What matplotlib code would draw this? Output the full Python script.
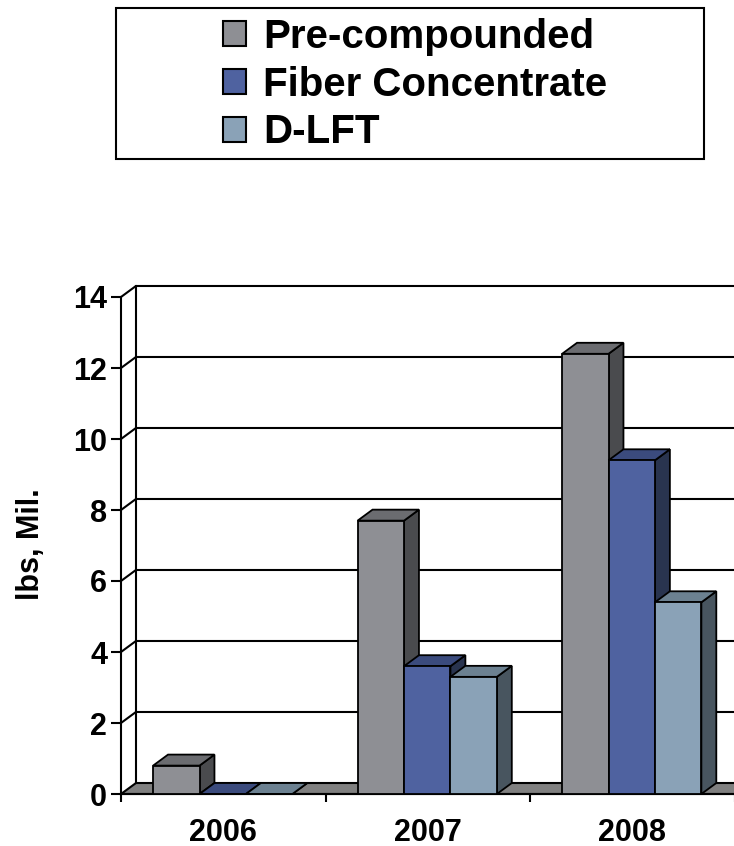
import matplotlib
matplotlib.use("Agg")
import matplotlib.pyplot as plt
from matplotlib.patches import Polygon, Rectangle, Patch

plt.rcParams['font.family'] = ['Liberation Sans', 'DejaVu Sans']
plt.rcParams['font.weight'] = 'bold'

years = ['2006', '2007', '2008']
series = ['Pre-compounded', 'Fiber Concentrate', 'D-LFT']
pre_compounded = [0.8, 7.7, 12.4]
fiber_concentrate = [0.0, 3.6, 9.4]
d_lft = [0.0, 3.3, 5.4]
yticks = [0, 2, 4, 6, 8, 10, 12, 14]

# front / top / side shades for each series
shades = [
    ('#8e8f94', '#6b6c70', '#4a4b4e'),
    ('#4f62a0', '#3b4b7d', '#29344f'),
    ('#8aa2b7', '#6c8191', '#48555f'),
]

values = [pre_compounded, fiber_concentrate, d_lft]

W = 0.227      # bar width (category units)
GAP = 0.157    # space before the first bar in each category
DX = 0.073     # depth offset in x
DY = 0.31      # depth offset in y
XR = 2.7       # right end of walls (runs off the figure)

fig = plt.figure(figsize=(7.34, 8.46), dpi=100)
ax = fig.add_axes([121 / 734, 52 / 846, 613.5 / 734, 497 / 846])
ax.set_xlim(-0.5, 2.5)
ax.set_ylim(0, 14)

for s in ['top', 'right']:
    ax.spines[s].set_visible(False)
ax.spines['left'].set_linewidth(1.5)
ax.spines['bottom'].set_linewidth(1.5)
ax.spines['bottom'].set_bounds(-0.5, XR)

ax.set_yticks(yticks)
ax.set_yticklabels([str(t) for t in yticks], fontsize=22, fontweight='bold')
ax.tick_params(axis='y', length=7, width=1.5, pad=3)
ax.set_xticks(range(len(years)))
ax.set_xticklabels(years, fontsize=22, fontweight='bold')
ax.set_xticks([-0.5, 0.5, 1.5, 2.5], minor=True)
ax.tick_params(axis='x', which='major', length=0, pad=17)
ax.tick_params(axis='x', which='minor', length=6, width=1.5)

# back wall, side-wall gridlines and floor
ax.plot([-0.5 + DX, -0.5 + DX], [DY, 14 + DY], color='black', lw=1.5,
        clip_on=False, zorder=1)
for y in yticks[1:]:
    ax.plot([-0.5, -0.5 + DX, XR], [y, y + DY, y + DY], color='black',
            lw=1.5, clip_on=False, zorder=1)
floor = Polygon([(-0.5, 0), (XR, 0), (XR, DY), (-0.5 + DX, DY)],
                closed=True, facecolor='#808080', edgecolor='black',
                lw=1.5, clip_on=False, zorder=2)
ax.add_patch(floor)

z = 3
for i in range(len(years)):
    for k in range(len(series)):
        v = values[k][i]
        x0 = i - 0.5 + GAP + k * W
        front, top, side = shades[k]
        ax.add_patch(Polygon([(x0 + W, 0), (x0 + W + DX, DY),
                              (x0 + W + DX, v + DY), (x0 + W, v)],
                             facecolor=side, edgecolor='black', lw=1.3,
                             clip_on=False, zorder=z))
        ax.add_patch(Polygon([(x0, v), (x0 + W, v), (x0 + W + DX, v + DY),
                              (x0 + DX, v + DY)],
                             facecolor=top, edgecolor='black', lw=1.3,
                             clip_on=False, zorder=z))
        ax.add_patch(Rectangle((x0, 0), W, v, facecolor=front,
                               edgecolor='black', lw=1.3, clip_on=False,
                               zorder=z))
        z += 1

fig.text(31 / 734, 1 - 544 / 846, 'lbs, Mil.', rotation=90, fontsize=22,
         fontweight='bold', ha='center', va='center')

# legend box
fig.patches.append(Rectangle((116 / 734, 1 - 159 / 846), 588 / 734, 151 / 846,
                             transform=fig.transFigure, facecolor='white',
                             edgecolor='black', lw=1.5))
handles = [Patch(facecolor=shades[k][0], edgecolor='black', lw=1.5)
           for k in range(len(series))]
fig.legend(handles, series, loc='upper left', frameon=False,
           bbox_to_anchor=(223 / 734, 1 - 18 / 846),
           prop={'size': 29, 'weight': 'bold'},
           handlelength=0.58, handleheight=0.58, handletextpad=0.42,
           labelspacing=0.24, borderpad=0, borderaxespad=0)

fig.savefig('out.png', dpi=100)
